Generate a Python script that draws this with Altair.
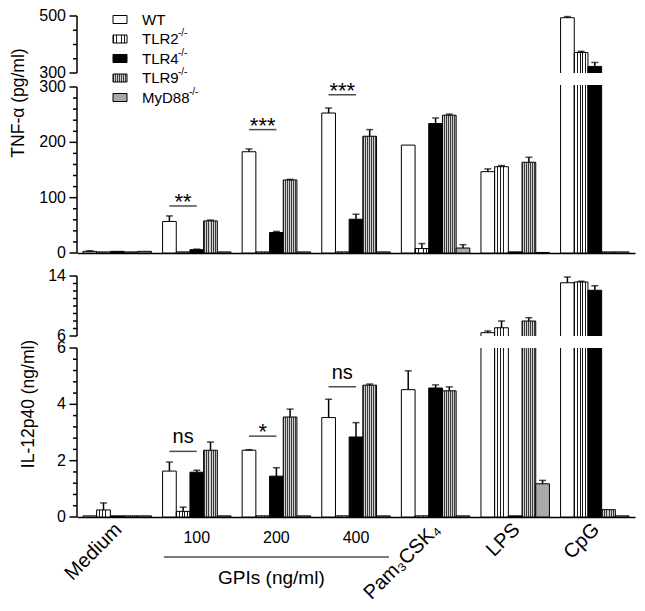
import altair as alt
import pandas as pd

FONT = "Liberation Sans"

# ---------------- data ----------------
groups = ["Medium", "100", "200", "400", "Pam3CSK4", "LPS", "CpG"]
series = ["WT", "TLR2", "TLR4", "TLR9", "MyD88"]
rotated_groups = ["Medium", "Pam3CSK4", "LPS", "CpG"]
rotated_text = ["Medium", "Pam₃CSK₄", "LPS", "CpG"]
dose_groups = ["100", "200", "400"]

# TNF-alpha (pg/ml): bar heights and upper error
tnf_wt = [3, 57, 183, 253, 195, 147, 494]
tnf_tlr2 = [2, 2, 2, 2, 8, 156, 372]
tnf_tlr4 = [3, 6, 37, 61, 234, 2, 323]
tnf_tlr9 = [2, 58, 132, 211, 249, 164, 2]
tnf_myd88 = [3, 2, 2, 2, 9, 1, 2]
tnf_wt_err = [1, 10, 5, 9, 0, 5, 4]
tnf_tlr2_err = [0, 0, 0, 0, 9, 2, 4]
tnf_tlr4_err = [0, 1, 2, 9, 10, 0, 14]
tnf_tlr9_err = [0, 1.5, 1, 12, 2, 9, 0]
tnf_myd88_err = [0, 0, 0, 0, 6, 0, 0]

# IL-12p40 (ng/ml)
il_wt = [0.04, 1.63, 2.37, 3.53, 4.52, 6.44, 13.1]
il_tlr2 = [0.25, 0.2, 0.04, 0.04, 0.04, 7.1, 13.2]
il_tlr4 = [0.04, 1.59, 1.45, 2.84, 4.58, 0.04, 12.1]
il_tlr9 = [0.04, 2.37, 3.55, 4.68, 4.48, 8.0, 0.26]
il_myd88 = [0.04, 0.04, 0.04, 0.04, 0.04, 1.18, 0.04]
il_wt_err = [0, 0.32, 0.02, 0.65, 0.67, 0.23, 0.77]
il_tlr2_err = [0.25, 0.15, 0, 0, 0, 0.9, 0.1]
il_tlr4_err = [0, 0.07, 0.3, 0.51, 0.11, 0, 0.6]
il_tlr9_err = [0, 0.29, 0.28, 0.04, 0.14, 0.44, 0]
il_myd88_err = [0, 0, 0, 0, 0, 0.12, 0]

# significance brackets
tnf_sig_groups = ["100", "200", "400"]
tnf_sig_marks = ["**", "***", "***"]
tnf_sig_y = [85, 223, 286]
il_sig_groups = ["100", "200", "400"]
il_sig_marks = ["ns", "*", "ns"]
il_sig_y = [2.33, 2.87, 4.62]

# axis tick values (major = labelled, minor = small ticks)
tnf_upper_major = [300, 500]
tnf_upper_minor = [350, 400, 450]
tnf_lower_major = [0, 100, 200, 300]
tnf_lower_minor = [v for v in range(0, 301, 20) if v % 100]
il_upper_major = [6, 14]
il_upper_minor = list(range(7, 14, 1))
il_lower_major = [0, 2, 4, 6]
il_lower_minor = [round(i * 0.4, 1) for i in range(16) if i % 5]


def long_df(vals, errs):
    rows = []
    for s, v, e in zip(series, vals, errs):
        for g, vv, ee in zip(groups, v, e):
            rows.append(dict(group=g, series=s, value=vv, err=ee, top=vv + ee))
    return pd.DataFrame(rows)


tnf_df = long_df([tnf_wt, tnf_tlr2, tnf_tlr4, tnf_tlr9, tnf_myd88],
                 [tnf_wt_err, tnf_tlr2_err, tnf_tlr4_err, tnf_tlr9_err, tnf_myd88_err])
il_df = long_df([il_wt, il_tlr2, il_tlr4, il_tlr9, il_myd88],
                [il_wt_err, il_tlr2_err, il_tlr4_err, il_tlr9_err, il_myd88_err])
tnf_sig = pd.DataFrame(dict(group=tnf_sig_groups, mark=tnf_sig_marks, y=tnf_sig_y, pos="TLR2"))
il_sig = pd.DataFrame(dict(group=il_sig_groups, mark=il_sig_marks, y=il_sig_y, pos="TLR2"))
rot_df = pd.DataFrame(dict(group=rotated_groups, text=rotated_text))
dose_df = pd.DataFrame(dict(group=dose_groups))
gpi_df = pd.DataFrame(dict(group=["200"], text=["GPIs (ng/ml)"]))


# ---------------- styles ----------------
def stripes(n, dark, light, frac):
    stops = []
    for i in range(n):
        a, b, c = i / n, (i + frac) / n, (i + 1) / n
        stops += [alt.GradientStop(offset=a, color=dark), alt.GradientStop(offset=b, color=dark),
                  alt.GradientStop(offset=b, color=light), alt.GradientStop(offset=c, color=light)]
    return alt.LinearGradient(gradient="linear", stops=stops, x1=0, x2=1, y1=0, y2=0)


FILL = {
    "WT": "#ffffff",
    "TLR2": stripes(5, "#1a1a1a", "#ffffff", 0.3),
    "TLR4": "#000000",
    "TLR9": stripes(7, "#3c3c3c", "#cfcfcf", 0.5),
    "MyD88": "#a9a9a9",
}

W = 558
XSCALE = alt.Scale(domain=groups, paddingInner=0.14, paddingOuter=0.075)
XOFF_SCALE = alt.Scale(domain=series, paddingInner=0, paddingOuter=0)
XOFF = alt.XOffset("series:N", scale=XOFF_SCALE)


def x_enc(show_axis):
    if show_axis:
        ax = alt.Axis(title=None, labels=False, ticks=False, domain=True,
                      domainColor="black", domainWidth=1.5)
    else:
        ax = None
    return alt.X("group:N", scale=XSCALE, axis=ax)


def y_axis_layers(lo, hi, yscale, minor, majors, title=None, tx=0, ty=0):
    """Hand-drawn broken-axis segment: domain line, minor + major ticks, labels, title."""
    out = []
    out.append(alt.Chart(pd.DataFrame({"lo": [lo], "hi": [hi]})).mark_rule(
        color="black", strokeWidth=1.5).encode(
        y=alt.Y("lo:Q", scale=yscale, axis=None), y2="hi:Q", x=alt.value(0)))
    out.append(alt.Chart(pd.DataFrame({"v": minor})).mark_rule(
        color="black", strokeWidth=1.5).encode(
        y=alt.Y("v:Q", scale=yscale, axis=None), x=alt.value(-4), x2=alt.value(0)))
    maj = alt.Chart(pd.DataFrame({"v": majors}))
    out.append(maj.mark_rule(color="black", strokeWidth=1.5).encode(
        y=alt.Y("v:Q", scale=yscale, axis=None), x=alt.value(-7.5), x2=alt.value(0)))
    out.append(maj.mark_text(font=FONT, fontSize=16, align="right", baseline="middle",
                             color="black").encode(
        y=alt.Y("v:Q", scale=yscale, axis=None), x=alt.value(-11),
        text=alt.Text("v:Q", format="d")))
    if title:
        out.append(alt.Chart(pd.DataFrame({"t": [title]})).mark_text(
            font=FONT, fontSize=17.5, angle=270, align="center", baseline="middle",
            color="black").encode(x=alt.value(tx), y=alt.value(ty), text="t:N"))
    return out


def segment(df, lo, hi, part, rng, minor, majors, show_x, title=None, tx=0, ty=0):
    sc = dict(domain=[lo, hi], nice=False, zero=False)
    if rng is not None:
        sc["range"] = rng
    yscale = alt.Scale(**sc)
    xe = x_enc(show_x)
    if part == "lower":
        top_expr = f"min(datum.value, {hi + (hi - lo) * 0.05})"
        bot_expr = f"{lo}"
        bar_filter = "true"
        err_filter = f"datum.value <= {hi} && datum.err > 0"
    else:
        top_expr = "datum.value"
        bot_expr = f"{lo - (hi - lo) * 0.1}"
        bar_filter = f"datum.value > {lo}"
        err_filter = f"datum.value > {lo} && datum.err > 0"
    layers = []
    for s in series:
        layers.append(
            alt.Chart(df).transform_filter(f"datum.series === '{s}' && {bar_filter}")
            .transform_calculate(ytop=top_expr, ybot=bot_expr)
            .mark_bar(fill=FILL[s], stroke="black", strokeWidth=1, clip=True)
            .encode(x=xe, xOffset=XOFF, y=alt.Y("ytop:Q", scale=yscale, axis=None), y2="ybot:Q")
        )
    errs = alt.Chart(df).transform_filter(err_filter)
    layers.append(errs.mark_rule(color="black", strokeWidth=1.5)
                  .encode(x=xe, xOffset=XOFF, y=alt.Y("value:Q", scale=yscale, axis=None),
                          y2="top:Q"))
    layers.append(errs.mark_tick(color="black", thickness=1.5, size=7, orient="horizontal")
                  .encode(x=xe, xOffset=XOFF, y=alt.Y("top:Q", scale=yscale, axis=None)))
    layers += y_axis_layers(lo, hi, yscale, minor, majors, title, tx, ty)
    return layers, xe, yscale


def sig_layers(sig_df, xe, yscale):
    base = alt.Chart(sig_df)
    xo = alt.XOffset("pos:N", scale=XOFF_SCALE)
    yy = alt.Y("y:Q", scale=yscale, axis=None)
    line = base.mark_tick(color="black", thickness=1.5, size=27.5, orient="horizontal").encode(
        x=xe, xOffset=xo, y=yy)
    stars = base.transform_filter("datum.mark !== 'ns'").mark_text(
        font=FONT, fontSize=22, baseline="alphabetic", dy=3, color="black").encode(
        x=xe, xOffset=xo, y=yy, text="mark:N")
    ns = base.transform_filter("datum.mark === 'ns'").mark_text(
        font=FONT, fontSize=20, baseline="alphabetic", dy=-8, color="black").encode(
        x=xe, xOffset=xo, y=yy, text="mark:N")
    return [line, stars, ns]


def panel(layers, h):
    return alt.layer(*layers).properties(width=W, height=h)


# ---------------- TNF panel ----------------
H_TU = 57
tu_layers, _, _ = segment(tnf_df, 300, 500, "upper", None,
                          tnf_upper_minor, tnf_upper_major, False)

# legend (drawn inside the top-upper segment)
LEG_ROW_Y = [3.5, 23, 42.5, 62, 81.5]
LEG_SUP_X = [None, 101, 101, 101, 112]
legend_names = ["WT", "TLR2", "TLR4", "TLR9", "MyD88"]
one = pd.DataFrame({"k": [0]})
for i, s in enumerate(series):
    ry = LEG_ROW_Y[i]
    tu_layers.append(alt.Chart(one).mark_rect(fill=FILL[s], stroke="black", strokeWidth=1).encode(
        x=alt.value(36), x2=alt.value(50), y=alt.value(ry - 4), y2=alt.value(ry + 4)))
    tu_layers.append(alt.Chart(one).mark_text(text=legend_names[i], font=FONT, fontSize=15,
                                              align="left", baseline="middle", color="black").encode(
        x=alt.value(65), y=alt.value(ry)))
    if LEG_SUP_X[i] is not None:
        tu_layers.append(alt.Chart(one).mark_text(text="-/-", font=FONT, fontSize=10,
                                                  align="left", baseline="middle", color="black").encode(
            x=alt.value(LEG_SUP_X[i]), y=alt.value(ry - 6)))

top_upper = panel(tu_layers, H_TU)

H_TL = 168
tl_layers, xe, ys = segment(tnf_df, 0, 300, "lower", [H_TL, 2],
                            tnf_lower_minor, tnf_lower_major, True,
                            title="TNF-α (pg/ml)", tx=-58, ty=18)
tl_layers += sig_layers(tnf_sig, xe, ys)
top_lower = panel(tl_layers, H_TL)

# ---------------- IL-12 panel ----------------
H_BU = 71
bu_layers, _, _ = segment(il_df, 6, 14, "upper", [H_BU, 11],
                          il_upper_minor, il_upper_major, False)
bot_upper = panel(bu_layers, H_BU)

H_BL = 169
bl_layers, xe, ys = segment(il_df, 0, 6, "lower", None,
                            il_lower_minor, il_lower_major, True,
                            title="IL-12p40 (ng/ml)", tx=-48, ty=56)
bl_layers += sig_layers(il_sig, xe, ys)

# category labels below the x axis
bl_layers.append(alt.Chart(rot_df).mark_text(font=FONT, fontSize=20, angle=315, align="right",
                                             baseline="middle", dx=2, dy=0, color="black").encode(
    x=xe, y=alt.value(H_BL + 11), text="text:N"))
bl_layers.append(alt.Chart(dose_df).mark_text(font=FONT, fontSize=16, baseline="middle",
                                              color="black").encode(
    x=xe, y=alt.value(H_BL + 21), text="group:N"))
bl_layers.append(alt.Chart(gpi_df).mark_tick(color="black", thickness=1.5, size=225,
                                             orient="horizontal").encode(
    x=xe, y=alt.value(H_BL + 40)))
bl_layers.append(alt.Chart(gpi_df).mark_text(font=FONT, fontSize=19, baseline="middle", dx=-5,
                                             color="black").encode(
    x=xe, y=alt.value(H_BL + 61), text="text:N"))
bot_lower = panel(bl_layers, H_BL)

chart = (
    alt.vconcat(top_upper, top_lower, bot_upper, bot_lower, spacing=12, bounds="flush")
    .properties(padding={"left": 2, "top": 0, "right": 2, "bottom": 0}, background="white")
    .configure_view(stroke=None)
)

chart.save("out.html", embed_options={"renderer": "svg", "actions": False})
